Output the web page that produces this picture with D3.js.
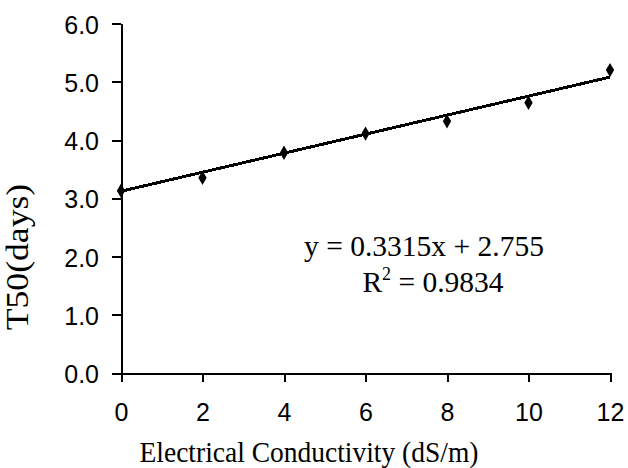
<!DOCTYPE html>
<html>
<head>
<meta charset="utf-8">
<script src="https://cdn.jsdelivr.net/npm/d3@7"></script>
<style>
  body { margin: 0; background: white; }
  .tick text { font-family: "Liberation Sans", Arial, sans-serif; font-size: 25px; fill: black; }
  .title { font-family: "Liberation Serif", "Times New Roman", serif; fill: black; }
</style>
</head>
<body>
<div id="chart"></div>
<script>
// values
const ecValues = [0, 2, 4, 6, 8, 10, 12];
const t50Values = [3.13, 3.35, 3.78, 4.11, 4.32, 4.64, 5.2];
// trend line ends as drawn in the picture
const trendX = [0, 12];
const trendY = [3.12, 5.08];
const xTicks = [0, 2, 4, 6, 8, 10, 12];
const yTicks = [0, 1, 2, 3, 4, 5, 6];
const equationLines = ['y = 0.3315x + 2.755', 'R', '2', ' = 0.9834'];

const width = 628, height = 468;

const svg = d3.select('#chart').append('svg')
    .attr('width', width)
    .attr('height', height);

const x = d3.scaleLinear().domain([0, 12]).range([121, 610]);
const y = d3.scaleLinear().domain([0, 6]).range([373, 23.5]);

// axes
const yAxis = svg.append('g')
    .attr('transform', `translate(${x(0)},0)`)
    .call(d3.axisLeft(y).tickValues(yTicks).tickFormat(d3.format('.1f'))
        .tickSize(9).tickSizeOuter(0).tickPadding(13));

const xAxis = svg.append('g')
    .attr('transform', `translate(0,${y(0)})`)
    .call(d3.axisBottom(x).tickValues(xTicks).tickFormat(d3.format('d'))
        .tickSize(9).tickSizeOuter(0).tickPadding(21));

[xAxis, yAxis].forEach(a => {
    a.attr('font-family', null).attr('font-size', null);
    a.selectAll('path, line')
        .attr('stroke', 'black')
        .attr('stroke-width', 2)
        .attr('shape-rendering', 'crispEdges');
});
yAxis.selectAll('.tick text').attr('dy', '0.38em');

// trend line
const line = d3.line().x(d => x(d[0])).y(d => y(d[1]));
svg.append('path')
    .datum(trendX.map((v, i) => [v, trendY[i]]))
    .attr('d', line)
    .attr('fill', 'none')
    .attr('stroke', 'black')
    .attr('stroke-width', 3)
    .attr('shape-rendering', 'crispEdges');

// markers
svg.append('g')
    .selectAll('path')
    .data(ecValues.map((v, i) => [v, t50Values[i]]))
    .join('path')
    .attr('transform', d => `translate(${x(d[0])},${y(d[1])})`)
    .attr('d', d3.symbol(d3.symbolDiamond, 60))
    .attr('fill', 'black');

// equation
svg.append('text')
    .classed('title', true)
    .attr('x', 424)
    .attr('y', 256)
    .attr('text-anchor', 'middle')
    .style('font-size', '29.5px')
    .text(equationLines[0]);

const r2 = svg.append('text')
    .classed('title', true)
    .attr('x', 433)
    .attr('y', 292)
    .attr('text-anchor', 'middle')
    .style('font-size', '29.5px');
r2.append('tspan').text(equationLines[1]);
r2.append('tspan').attr('dy', -12).style('font-size', '18px').text(equationLines[2]);
r2.append('tspan').attr('dy', 12).text(equationLines[3]);

// axis titles
svg.append('text')
    .classed('title', true)
    .attr('transform', 'translate(309,462) scale(1,1.1)')
    .attr('text-anchor', 'middle')
    .style('font-size', '27.5px')
    .text('Electrical Conductivity (dS/m)');

svg.append('text')
    .classed('title', true)
    .attr('transform', 'translate(28,257) rotate(-90) scale(1.15,1)')
    .attr('text-anchor', 'middle')
    .style('font-size', '31px')
    .text('T50(days)');
</script>
</body>
</html>
